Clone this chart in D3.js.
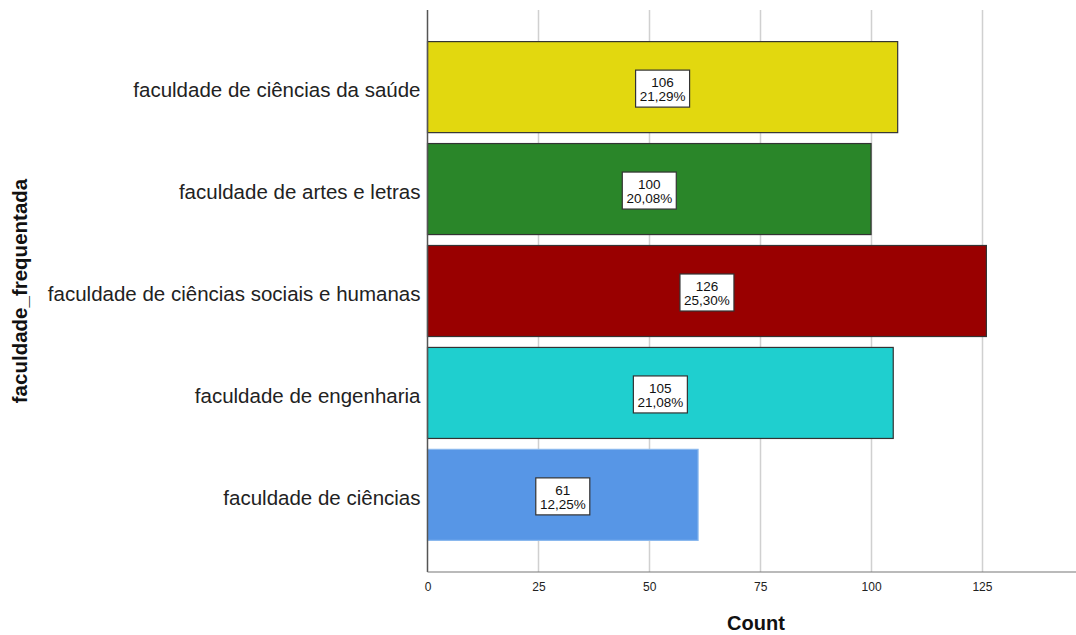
<!DOCTYPE html>
<html><head><meta charset="utf-8">
<script src="https://cdn.jsdelivr.net/npm/d3@7"></script>
<style>body{margin:0;background:#fff}svg{display:block}</style>
</head><body><svg id="c" width="1076" height="635"></svg>
<script>
const categories = ["faculdade de ciências da saúde","faculdade de artes e letras","faculdade de ciências sociais e humanas","faculdade de engenharia","faculdade de ciências"];
const counts = [106, 100, 126, 105, 61];
const percents = ["21,29%","20,08%","25,30%","21,08%","12,25%"];
const xTicks = [0, 25, 50, 75, 100, 125];
const colors = ["#e2d80f","#2a8629","#990000","#1fcfcf","#5796e6"];
const strokes = ["#333","#333","#333","#333","#8ab8ee"];

const svg = d3.select("#c");
const L = 427.5, R = 1072, T = 10, B = 572;
const x = d3.scaleLinear().domain([0, 145.3]).range([L, R]);
const y = d3.scaleBand().domain(categories).range([T, B]).paddingInner(0.107).paddingOuter(0.31);
const font = "Arial, 'Liberation Sans', sans-serif";

// gridlines
svg.append("g").selectAll("line").data(xTicks.slice(1)).join("line")
  .attr("x1", d => Math.round(x(d)) + 0.5).attr("x2", d => Math.round(x(d)) + 0.5)
  .attr("y1", T).attr("y2", B).attr("stroke", "#d0d0d0").attr("stroke-width", 1.5);

// bars
svg.append("g").selectAll("rect").data(categories).join("rect")
  .attr("x", L).attr("y", d => y(d))
  .attr("width", (d, i) => x(counts[i]) - L).attr("height", y.bandwidth())
  .attr("fill", (d, i) => colors[i]).attr("stroke", (d, i) => strokes[i]).attr("stroke-width", 1.2);

// axes lines
svg.append("line").attr("x1", L).attr("x2", L).attr("y1", T).attr("y2", B).attr("stroke", "#555").attr("stroke-width", 1.5);
svg.append("line").attr("x1", L).attr("x2", R + 4).attr("y1", B).attr("y2", B).attr("stroke", "#777").attr("stroke-width", 1.2);

// x axis tick labels
const xAxis = d3.axisBottom(x).tickValues(xTicks).tickSize(0).tickPadding(10);
const gx = svg.append("g").attr("transform", `translate(0,${B})`).call(xAxis);
gx.select(".domain").remove();
gx.selectAll("text").attr("font-family", font).attr("font-size", 12).attr("fill", "#222");

// y axis labels
const yAxis = d3.axisLeft(y).tickSize(0).tickPadding(7);
const gy = svg.append("g").attr("transform", `translate(${L},0)`).call(yAxis);
gy.select(".domain").remove();
gy.selectAll("text").attr("font-family", font).attr("font-size", 20.5).attr("fill", "#222").attr("dy", "0.5em");

// data labels
const lab = svg.append("g").selectAll("g").data(categories).join("g")
  .attr("transform", (d, i) => `translate(${x(counts[i] / 2)},${y(d) + y.bandwidth() / 2})`);
lab.append("rect").attr("x", -27).attr("y", -17).attr("width", 54).attr("height", 37)
  .attr("fill", "#fff").attr("stroke", "#333").attr("stroke-width", 1.2);
lab.append("text").attr("text-anchor", "middle").attr("y", 0).attr("font-family", font).attr("font-size", 13.5)
  .attr("fill", "#111").text((d, i) => counts[i]);
lab.append("text").attr("text-anchor", "middle").attr("y", 14).attr("font-family", font).attr("font-size", 13.5)
  .attr("fill", "#111").text((d, i) => percents[i]);

// axis titles
svg.append("text").attr("x", 756).attr("y", 630).attr("text-anchor", "middle")
  .attr("font-family", font).attr("font-size", 20).attr("font-weight", "bold").attr("fill", "#111").text("Count");
svg.append("text").attr("transform", "translate(27,291) rotate(-90)").attr("text-anchor", "middle")
  .attr("font-family", font).attr("font-size", 20.5).attr("font-weight", "bold").attr("fill", "#111").text("faculdade_frequentada");
</script></body></html>
